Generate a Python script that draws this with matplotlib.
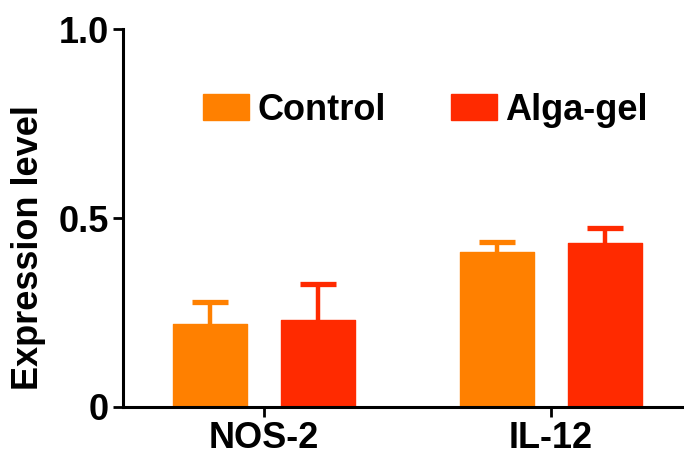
import numpy as np
import matplotlib.pyplot as plt

plt.rcParams['font.family'] = ['Liberation Sans', 'DejaVu Sans']
plt.rcParams['font.weight'] = 'bold'

genes = ["NOS-2", "IL-12"]
series = ["Control", "Alga-gel"]
control_mean = [0.22, 0.41]
control_err = [0.058, 0.027]
alga_mean = [0.23, 0.434]
alga_err = [0.095, 0.039]
colors = ["#FF8000", "#FF2A00"]

fig = plt.figure(figsize=(6.84, 4.55), dpi=100)
ax = fig.add_axes([0.18, 0.1055, 0.82, 0.8305])

x = np.arange(len(genes))
width = 0.26
offset = 0.188
means = [control_mean, alga_mean]
errs = [control_err, alga_err]
for i, name in enumerate(series):
    pos = x + (i * 2 - 1) * offset
    ax.bar(pos, means[i], width, color=colors[i], edgecolor=colors[i],
           linewidth=1, joinstyle='round', label=name, zorder=2)
    eb = ax.errorbar(pos, means[i], yerr=[np.zeros(len(genes)), errs[i]],
                     fmt='none', ecolor=colors[i], elinewidth=3.2,
                     capsize=13, capthick=3.8, zorder=1)
    # only the upper cap is wanted
    for cap in eb[1]:
        if np.allclose(cap.get_ydata(), means[i]):
            cap.set_visible(False)

ax.set_ylim(0, 1.0)
ax.set_xlim(-0.491, 1.463)
ax.set_yticks([0, 0.5, 1.0])
ax.set_yticklabels(["0", "0.5", "1.0"])
ax.set_xticks(x)
ax.set_xticklabels(genes)
ax.set_ylabel("Expression level", fontsize=26, fontweight='bold')
ax.yaxis.set_label_coords(-0.137, 0.423)

for side in ['top', 'right']:
    ax.spines[side].set_visible(False)
for side in ['left', 'bottom']:
    ax.spines[side].set_linewidth(2.2)
ax.tick_params(axis='both', width=2.0, length=7, labelsize=26, pad=3)

ax.legend(ncol=2, frameon=False, fontsize=26, loc='upper left',
          bbox_to_anchor=(0.117, 0.87), handlelength=1.28, handleheight=0.75,
          handletextpad=0.22, columnspacing=1.8, borderaxespad=0)

fig.savefig("out.png", dpi=100)
